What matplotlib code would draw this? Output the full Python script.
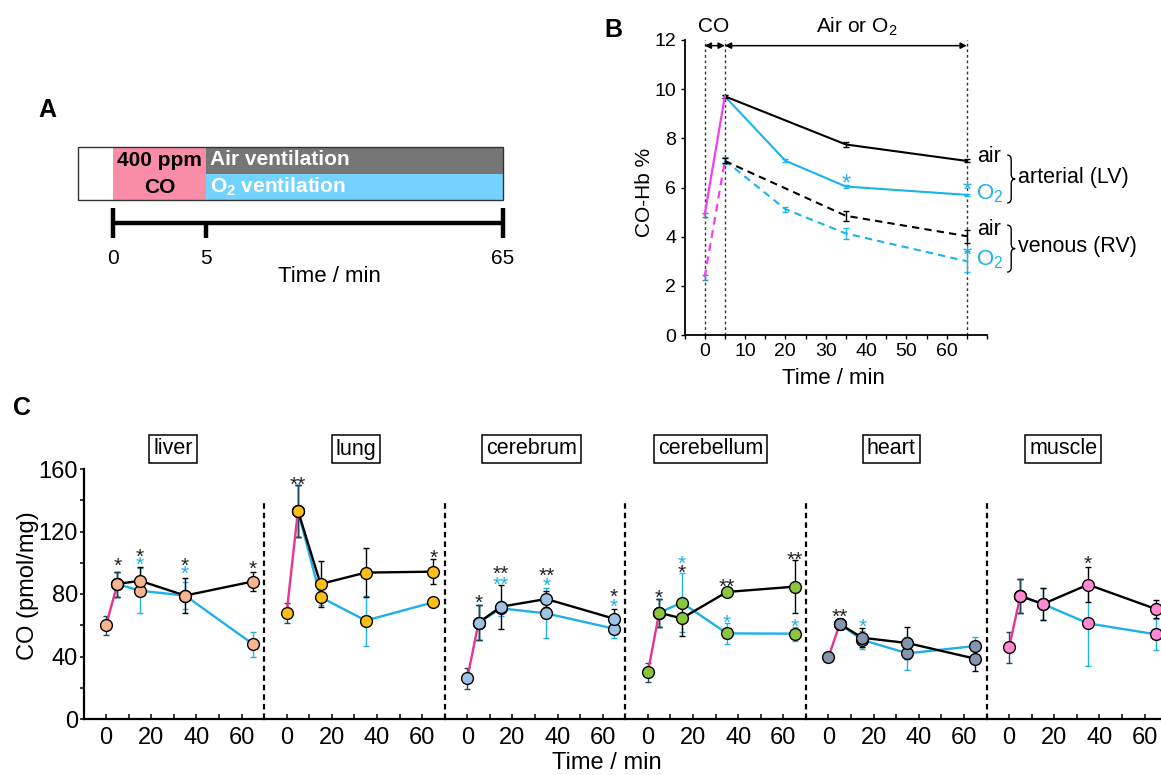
import numpy as np
import matplotlib
matplotlib.use('Agg')
import matplotlib.pyplot as plt
from matplotlib.path import Path
from matplotlib.patches import PathPatch, Rectangle
import matplotlib.transforms as mtransforms

plt.rcParams['font.family'] = ['Liberation Sans', 'DejaVu Sans']
plt.rcParams['mathtext.fontset'] = 'custom'
plt.rcParams['mathtext.rm'] = 'Liberation Sans'
plt.rcParams['mathtext.it'] = 'Liberation Sans:italic'
plt.rcParams['mathtext.bf'] = 'Liberation Sans:bold'

# ------------------------------------------------------------------ data
# Panel A (protocol)
a_phase_bounds = [-5, 0, 5, 65]
a_tick_times = [0, 5, 65]

# Panel B (CO-Hb %)
b_t_co = [0, 5]
b_t_air = [5, 35, 65]
b_t_o2 = [5, 20, 35, 65]
b_art_co = [4.89, 9.71]
b_art_co_err = [0.08, 0.05]
b_art_air = [9.71, 7.75, 7.08]
b_art_air_err = [0.05, 0.11, 0.06]
b_art_o2 = [9.71, 7.09, 6.04, 5.70]
b_art_o2_err = [0.07, 0.05, 0.05, 0.04]
b_ven_co = [2.35, 7.08]
b_ven_co_err = [0.1, 0.15]
b_ven_air = [7.08, 4.85, 4.02]
b_ven_air_err = [0.1, 0.2, 0.27]
b_ven_o2 = [7.1, 5.12, 4.13, 3.0]
b_ven_o2_err = [0.15, 0.1, 0.22, 0.42]
b_marks = [0, 5, 65]
b_stars = [(35, 6.44), (65, 6.15), (65, 3.48)]

# Panel C (tissue CO, pmol/mg)
organs = ['liver', 'lung', 'cerebrum', 'cerebellum', 'heart', 'muscle']
c_t_co = [0, 5]
c_t_vent = [5, 15, 35, 65]

liver_co, liver_co_err = [60, 86.4], [6, 8]
liver_air, liver_air_err = [86.4, 88.5, 79, 88], [8, 9, 11, 6]
liver_o2, liver_o2_err = [86.4, 82.1, 79, 48], [8, 14.5, 8.5, 8]

lung_co, lung_co_err = [68, 133.3], [6.5, 16.5]
lung_air, lung_air_err = [133.3, 86.4, 93.7, 94.3], [16.5, 14.5, 15.5, 8]
lung_o2, lung_o2_err = [133.3, 78, 63, 74.7], [16.5, 5, 16, 2.5]

cerebrum_co, cerebrum_co_err = [26, 61.7], [6.5, 11]
cerebrum_air, cerebrum_air_err = [61.7, 71.9, 76.8, 64.2], [11, 14, 5, 6]
cerebrum_o2, cerebrum_o2_err = [61.7, 70.8, 67.6, 57.8], [11, 5, 16, 6]

cerebellum_co, cerebellum_co_err = [29.9, 68], [6, 9]
cerebellum_air, cerebellum_air_err = [68, 64.4, 81.3, 84.7], [9, 11, 2.5, 17]
cerebellum_o2, cerebellum_o2_err = [68, 74.5, 54.8, 54.6], [9, 19, 6.5, 4.5]

heart_co, heart_co_err = [39.7, 60.8], [1, 2]
heart_air, heart_air_err = [60.8, 52, 48.6, 38.6], [2, 6, 10, 8]
heart_o2, heart_o2_err = [60.8, 50.6, 42, 46.7], [2, 6, 10.5, 5.5]

muscle_co, muscle_co_err = [45.9, 78.7], [10, 11]
muscle_air, muscle_air_err = [78.7, 73.6, 86, 70.4], [11, 10, 11, 6]
muscle_o2, muscle_o2_err = [78.7, 73.6, 61.2, 54.2], [11, 10, 27, 10]

# significance marks: (time, text, group, y)
liver_stars = [(5, '*', 'air', 101.8), (15, '*', 'air', 107.7), (15, '*', 'o2', 102.2),
               (35, '*', 'air', 101.8), (35, '*', 'o2', 96.4), (65, '*', 'air', 99.6)]
lung_stars = [(5, '**', 'air', 153.4), (65, '*', 'air', 107)]
cerebrum_stars = [(5, '*', 'air', 78.3), (15, '**', 'air', 96.9), (15, '**', 'o2', 89.8),
                  (35, '**', 'air', 95.4), (35, '*', 'o2', 89), (65, '*', 'air', 81.9),
                  (65, '*', 'o2', 75.5)]
cerebellum_stars = [(5, '*', 'air', 81), (15, '*', 'o2', 102.8), (15, '*', 'air', 97.5),
                    (35, '**', 'air', 88.5), (35, '*', 'o2', 65.5), (65, '**', 'air', 105.4),
                    (65, '*', 'o2', 62.7)]
heart_stars = [(5, '**', 'air', 69.3), (15, '*', 'o2', 62.7)]
muscle_stars = [(35, '*', 'air', 102.8)]

organ_colors = ['#f7b590', '#fcbf12', '#9fc3e7', '#8cc63f', '#8495ad', '#ff8ad2']

organ_table = {
    'liver': (liver_co, liver_co_err, liver_air, liver_air_err, liver_o2, liver_o2_err, liver_stars),
    'lung': (lung_co, lung_co_err, lung_air, lung_air_err, lung_o2, lung_o2_err, lung_stars),
    'cerebrum': (cerebrum_co, cerebrum_co_err, cerebrum_air, cerebrum_air_err, cerebrum_o2, cerebrum_o2_err, cerebrum_stars),
    'cerebellum': (cerebellum_co, cerebellum_co_err, cerebellum_air, cerebellum_air_err, cerebellum_o2, cerebellum_o2_err, cerebellum_stars),
    'heart': (heart_co, heart_co_err, heart_air, heart_air_err, heart_o2, heart_o2_err, heart_stars),
    'muscle': (muscle_co, muscle_co_err, muscle_air, muscle_air_err, muscle_o2, muscle_o2_err, muscle_stars),
}

# ------------------------------------------------------------------ layout helpers
W, H = 1161, 775
fig = plt.figure(figsize=(W / 100, H / 100), dpi=100)


def rect(x0, y0, x1, y1):
    return [x0 / W, 1 - y1 / H, (x1 - x0) / W, (y1 - y0) / H]


def star(ax, x, y, s, color, fs):
    off = mtransforms.ScaledTranslation(0, -0.57 * fs / 72, fig.dpi_scale_trans)
    ax.text(x, y, s, ha='center', va='baseline', fontsize=fs, color=color,
            transform=ax.transData + off, clip_on=False, zorder=10)


def brace(ax, x0, x1, y0, y1, lw=1.0):
    xm = (x0 + x1) / 2
    ym = (y0 + y1) / 2
    d = (y1 - y0) * 0.1
    verts = [(x0, y1), (xm, y1), (xm, y1 - d), (xm, ym + d), (xm, ym), (x1, ym),
             (xm, ym), (xm, ym - d), (xm, y0 + d), (xm, y0), (x0, y0)]
    codes = [Path.MOVETO, Path.CURVE3, Path.CURVE3, Path.LINETO, Path.CURVE3, Path.CURVE3,
             Path.CURVE3, Path.CURVE3, Path.LINETO, Path.CURVE3, Path.CURVE3]
    ax.add_patch(PathPatch(Path(verts, codes), fc='none', ec='k', lw=lw, clip_on=False))


CYAN_B = '#1ab3ec'
MAG_B = '#f43ff0'
CYAN_C = '#1fb0e8'
MAG_C = '#e8338f'

# ------------------------------------------------------------------ panel letters
fig.text(47 / W, 1 - 110 / H, 'A', fontsize=18, fontweight='bold', ha='center', va='center')
fig.text(613 / W, 1 - 30 / H, 'B', fontsize=18, fontweight='bold', ha='center', va='center')
fig.text(22 / W, 1 - 408 / H, 'C', fontsize=18, fontweight='bold', ha='center', va='center')

# ------------------------------------------------------------------ Panel A
tk = np.array([-5.0, 0.0, 5.0, 65.0])
uk = np.array([0.0, 35.5, 128.5, 425.5])


def _pl(x, xs, ys):
    x = np.asarray(x, float)
    y = np.interp(x, xs, ys)
    y = np.where(x < xs[0], ys[0] + (x - xs[0]) * (ys[1] - ys[0]) / (xs[1] - xs[0]), y)
    y = np.where(x > xs[-1], ys[-1] + (x - xs[-1]) * (ys[-1] - ys[-2]) / (xs[-1] - xs[-2]), y)
    return y


axA = fig.add_axes(rect(77.5, 135, 503, 290))
axA.set_xscale('function', functions=(lambda t: _pl(t, tk, uk), lambda u: _pl(u, uk, tk)))
axA.set_xlim(a_phase_bounds[0], a_phase_bounds[-1])
axA.set_ylim(290, 135)
axA.axis('off')
y_top, y_mid, y_bot = 147, 173.5, 200
pre0, co0, vent0, end = a_phase_bounds
axA.bar(pre0, y_bot - y_top, width=co0 - pre0, bottom=y_top, align='edge', color='white', lw=0)
axA.bar(co0, y_bot - y_top, width=vent0 - co0, bottom=y_top, align='edge', color='#f98ca6', lw=0)
axA.bar(vent0, y_mid - y_top, width=end - vent0, bottom=y_top, align='edge', color='#767676', lw=0)
axA.bar(vent0, y_bot - y_mid, width=end - vent0, bottom=y_mid, align='edge', color='#74d3fe', lw=0)
axA.add_patch(Rectangle((pre0, y_top), end - pre0, y_bot - y_top, fill=False, ec='#333333', lw=1.0,
                        clip_on=False))
axA.text((co0 + vent0) / 2, 160, '400 ppm', fontsize=15, fontweight='bold', ha='center', va='center')
axA.text((co0 + vent0) / 2, 187, 'CO', fontsize=15, fontweight='bold', ha='center', va='center')
axA.text(vent0 + 0.8, 159.5, 'Air ventilation', fontsize=15, fontweight='bold', color='white',
         ha='left', va='center')
axA.text(vent0 + 0.8, 186.5, r'O$_\mathbf{2}$ ventilation', fontsize=15, fontweight='bold',
         color='white', ha='left', va='center')
axA.plot([a_tick_times[0], a_tick_times[-1]], [223, 223], color='k', lw=3.2, solid_capstyle='butt',
         clip_on=False)
axA.vlines([a_tick_times[0], a_tick_times[-1]], 208, 238, color='k', lw=3.2, clip_on=False)
axA.vlines([a_tick_times[1]], 223, 238, color='k', lw=3.2, clip_on=False)
for t in a_tick_times:
    axA.text(t, 258, str(t), fontsize=15, ha='center', va='center', clip_on=False)
axA.text(30, 276, 'Time / min', fontsize=16, ha='center', va='center', clip_on=False)

# ------------------------------------------------------------------ Panel B
axB = fig.add_axes(rect(684.5, 40, 987, 335))
axB.set_xlim(-5, 70)
axB.set_ylim(0, 12)
axB.patch.set_alpha(0)
for s in ['top', 'right']:
    axB.spines[s].set_visible(False)
for s in ['left', 'bottom']:
    axB.spines[s].set_linewidth(1.3)
axB.set_xticks(range(0, 61, 10))
axB.set_xticks(range(-5, 71, 5), minor=True)
axB.set_yticks(range(0, 13, 2))
axB.tick_params(axis='both', which='both', direction='out', length=3, width=1, labelsize=14, pad=3)

for t in b_marks:
    axB.plot([t, t], [0, 12], ls=(0, (2, 2)), lw=1, color='#333333', clip_on=False, zorder=1)

ekw = dict(capsize=2, elinewidth=1, capthick=1)
axB.errorbar(b_t_o2, b_art_o2, yerr=b_art_o2_err, color=CYAN_B, lw=1.5, zorder=3, **ekw)
axB.errorbar(b_t_air, b_art_air, yerr=b_art_air_err, color='k', lw=1.5, zorder=4, **ekw)
axB.errorbar(b_t_o2, b_ven_o2, yerr=b_ven_o2_err, color=CYAN_B, lw=1.5, ls=(0, (3.5, 2.5)), zorder=3, **ekw)
axB.errorbar(b_t_air, b_ven_air, yerr=b_ven_air_err, color='k', lw=1.5, ls=(0, (3.5, 2.5)), zorder=4, **ekw)
axB.plot(b_t_co, b_art_co, color=MAG_B, lw=1.6, zorder=5)
axB.plot(b_t_co, b_ven_co, color=MAG_B, lw=1.6, ls=(0, (3.5, 2.5)), zorder=5)
axB.errorbar(b_t_co[:1], b_art_co[:1], yerr=b_art_co_err[:1], fmt='none', ecolor='#2a90b5', **ekw)
axB.errorbar(b_t_co[:1], b_ven_co[:1], yerr=b_ven_co_err[:1], fmt='none', ecolor='#2a90b5', **ekw)
for (t, y) in b_stars:
    star(axB, t, y, '*', CYAN_B, 17)

akw = dict(arrowstyle='<|-|>', color='k', lw=1.1, shrinkA=0, shrinkB=0, mutation_scale=9)
axB.annotate('', xy=(b_marks[0], 11.77), xytext=(b_marks[1], 11.77), arrowprops=akw,
             annotation_clip=False)
axB.annotate('', xy=(b_marks[1], 11.77), xytext=(b_marks[2], 11.77), arrowprops=akw,
             annotation_clip=False)
axB.text(2.3, 12.55, 'CO', fontsize=15, ha='center', va='center', clip_on=False)
axB.text(37.8, 12.55, 'Air or O$_2$', fontsize=15, ha='center', va='center', clip_on=False)

axB.text(67.5, 7.25, 'air', fontsize=15.5, ha='left', va='center', clip_on=False)
axB.text(67.3, 5.75, 'O$_2$', fontsize=16, color=CYAN_B, ha='left', va='center', clip_on=False)
axB.text(67.5, 4.28, 'air', fontsize=15.5, ha='left', va='center', clip_on=False)
axB.text(67.3, 3.05, 'O$_2$', fontsize=16, color=CYAN_B, ha='left', va='center', clip_on=False)
brace(axB, 75.0, 77.0, 5.37, 7.32)
brace(axB, 75.0, 77.0, 2.56, 4.47)
axB.text(77.6, 6.39, 'arterial (LV)', fontsize=15.5, ha='left', va='center', clip_on=False)
axB.text(77.8, 3.6, 'venous (RV)', fontsize=15.5, ha='left', va='center', clip_on=False)

fig.text(645 / W, 1 - 192 / H, 'CO-Hb %', rotation=90, fontsize=15, ha='center', va='center')
fig.text(833 / W, 1 - 378 / H, 'Time / min', fontsize=16, ha='center', va='center')

# ------------------------------------------------------------------ Panel C
title_x = [29.7, 30.7, 28.4, 27.9, 27.8, 24.0]
panel_w = 180.6
for i, org in enumerate(organs):
    co, co_err, air, air_err, o2, o2_err, stars = organ_table[org]
    left = 83.5 + i * panel_w
    ax = fig.add_axes(rect(left, 469, left + panel_w, 719))
    ax.set_xlim(-10, 70)
    ax.set_ylim(0, 160)
    ax.patch.set_alpha(0)
    for s in ['top', 'right']:
        ax.spines[s].set_visible(False)
    ax.spines['bottom'].set_linewidth(1.6)
    ax.set_xticks([0, 20, 40, 60])
    ax.set_xticks([10, 30, 50], minor=True)
    ax.tick_params(axis='x', which='both', direction='in', length=3.5, width=1.1, labelsize=17, pad=6)
    if i == 0:
        ax.spines['left'].set_linewidth(1.6)
        ax.set_yticks([0, 40, 80, 120, 160])
        ax.set_yticks([20, 60, 100, 140], minor=True)
        ax.tick_params(axis='y', which='both', direction='out', length=3, width=1.1, labelsize=17, pad=1)
    else:
        ax.spines['left'].set_visible(False)
        ax.set_yticks([])
    if i < len(organs) - 1:
        ax.plot([70, 70], [0, 139], ls=(0, (2.5, 1.8)), lw=1.6, color='k', clip_on=False, zorder=1)

    ekw = dict(capsize=2.5, elinewidth=1, capthick=1, clip_on=False)
    ax.errorbar(c_t_vent, o2, yerr=o2_err, color=CYAN_C, lw=1.7, zorder=2, **ekw)
    ax.errorbar(c_t_vent, air, yerr=air_err, color='k', lw=1.7, zorder=3, **ekw)
    ax.errorbar(c_t_co, co, yerr=co_err, color=MAG_C, ecolor='#1d4a60', lw=1.7, zorder=3.5, **ekw)
    mkw = dict(ls='none', marker='o', ms=8.5, mfc=organ_colors[i], mec='k', mew=1, clip_on=False)
    ax.plot(c_t_vent, o2, zorder=4, **mkw)
    ax.plot(c_t_vent, air, zorder=5, **mkw)
    ax.plot(c_t_co, co, zorder=6, **mkw)
    for (t, s, grp, y) in stars:
        star(ax, t, y, s, '#222222' if grp == 'air' else CYAN_C, 15)

    ax.text(title_x[i], 1.08, org, fontsize=15.5, ha='center', va='center',
            transform=mtransforms.blended_transform_factory(ax.transData, ax.transAxes),
            bbox=dict(boxstyle='square,pad=0.18', fc='white', ec='k', lw=1.1), clip_on=False)

fig.text(28.3 / W, 1 - 586 / H, 'CO (pmol/mg)', rotation=90, fontsize=17, ha='center', va='center')
fig.text(606.7 / W, 1 - 763 / H, 'Time / min', fontsize=17, ha='center', va='center')

fig.savefig('out.png', dpi=100)
